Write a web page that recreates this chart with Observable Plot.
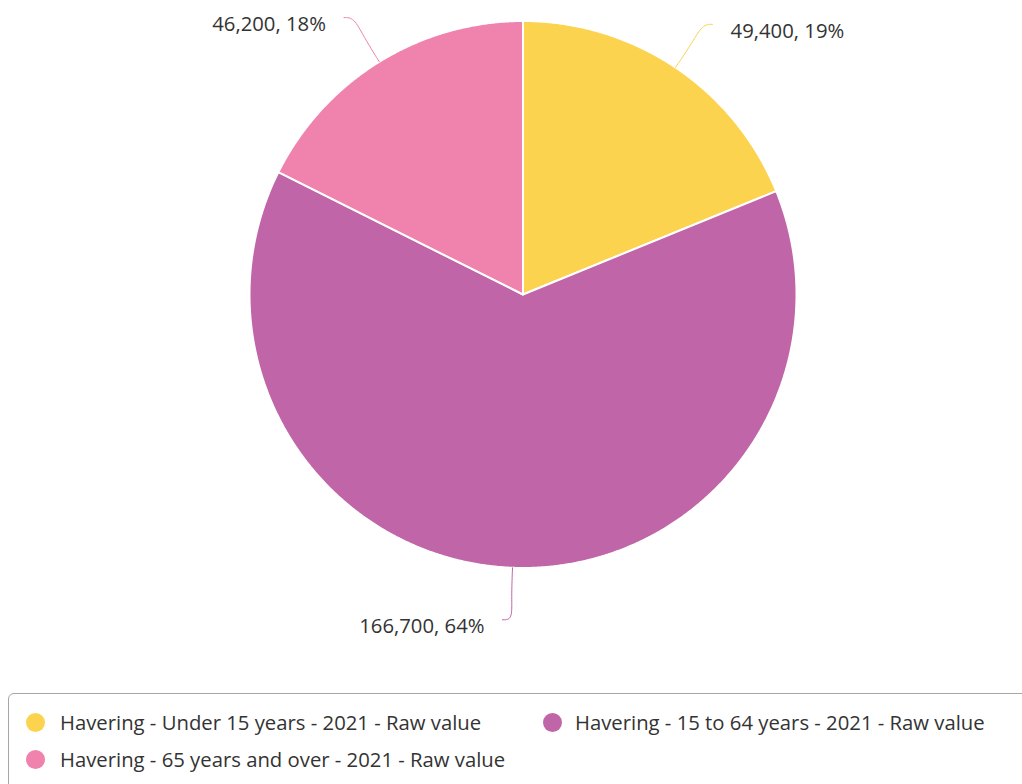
<!DOCTYPE html>
<html><head><meta charset="utf-8">
<script src="https://cdn.jsdelivr.net/npm/d3@7"></script>
<script src="https://cdn.jsdelivr.net/npm/@observablehq/plot@0.6"></script>
<style>
body{margin:0;background:#fff;font-family:"Open Sans",sans-serif;}
#chart{position:absolute;left:0;top:0;}
#legend{position:absolute;left:8px;top:693px;width:1040px;height:120px;border:1px solid #a6a6a6;border-radius:6px;box-sizing:border-box;}
.item{position:absolute;display:flex;align-items:center;height:28px;font-size:20.3px;color:#333;white-space:nowrap;}
.sw{width:19px;height:19px;border-radius:50%;margin-right:15px;flex:none;}
</style></head>
<body><div id="chart"></div><div id="legend"></div>
<script>
const categories = ["Havering - Under 15 years - 2021 - Raw value", "Havering - 15 to 64 years - 2021 - Raw value", "Havering - 65 years and over - 2021 - Raw value"];
const values = [49400, 166700, 46200];
const colors = ["#fbd34f", "#bf65a8", "#ef83ad"];

const total = d3.sum(values);
const arcs = d3.pie().sort(null)(values);
const px = 1 / 273.5; // one pixel in data units

// slice polygons
const slices = [];
arcs.forEach((a, i) => {
  const n = Math.max(2, Math.ceil((a.endAngle - a.startAngle) / 0.005));
  slices.push({cat: categories[i], x: 0, y: 0});
  for (let k = 0; k <= n; k++) {
    const t = a.startAngle + (a.endAngle - a.startAngle) * k / n;
    slices.push({cat: categories[i], x: Math.sin(t), y: Math.cos(t)});
  }
  slices.push({cat: categories[i], x: 0, y: 0});
});

// connectors and labels
const connectors = [];
const labels = [];
arcs.forEach((a, i) => {
  const m = (a.startAngle + a.endAngle) / 2;
  const side = Math.sin(m) >= 0 ? 1 : -1;
  const R = 1 + 52 * px;
  const ex = R * Math.sin(m) + side * 8 * px, ey = R * Math.cos(m);
  const pts = [
    [Math.sin(m), Math.cos(m)],
    [1.11 * Math.sin(m), 1.11 * Math.cos(m)],
    [ex - side * 10 * px, ey],
    [ex, ey]
  ];
  pts.forEach(([x, y]) => connectors.push({cat: categories[i], x, y}));
  labels.push({cat: categories[i], side, x: ex, y: ey,
    text: d3.format(",")(values[i]) + ", " + Math.round(values[i] / total * 100) + "%"});
});

const chart = Plot.plot({
  width: 1022, height: 690,
  margin: 0,
  x: {domain: [-1, 1], range: [249, 796], axis: null},
  y: {domain: [-1, 1], range: [567.5, 20.5], axis: null},
  color: {domain: categories, range: colors},
  style: {fontFamily: "'Open Sans', sans-serif", background: "#fff"},
  marks: [
    Plot.line(slices, {x: "x", y: "y", z: "cat", fill: "cat", stroke: "#fff", strokeWidth: 2, strokeLinejoin: "round"}),
    Plot.line(connectors, {x: "x", y: "y", z: "cat", stroke: "cat", strokeWidth: 1, curve: "basis"}),
    Plot.text(labels.filter(d => d.side > 0), {x: "x", y: "y", text: "text", textAnchor: "start", dx: 18, dy: 7, fontSize: 20.3, fill: "#333"}),
    Plot.text(labels.filter(d => d.side < 0), {x: "x", y: "y", text: "text", textAnchor: "end", dx: -18, dy: 7, fontSize: 20.3, fill: "#333"})
  ]
});
document.getElementById("chart").appendChild(chart);

// legend
const legend = document.getElementById("legend");
const pos = [[17, 14], [534, 14], [17, 51]];
const gaps = [15, 13, 15];
categories.forEach((c, i) => {
  const it = document.createElement("div");
  it.className = "item";
  it.style.left = pos[i][0] + "px";
  it.style.top = pos[i][1] + "px";
  const sw = document.createElement("span");
  sw.className = "sw";
  sw.style.background = colors[i];
  sw.style.marginRight = gaps[i] + "px";
  const tx = document.createElement("span");
  tx.textContent = c;
  it.appendChild(sw); it.appendChild(tx);
  legend.appendChild(it);
});
</script>
</body></html>
